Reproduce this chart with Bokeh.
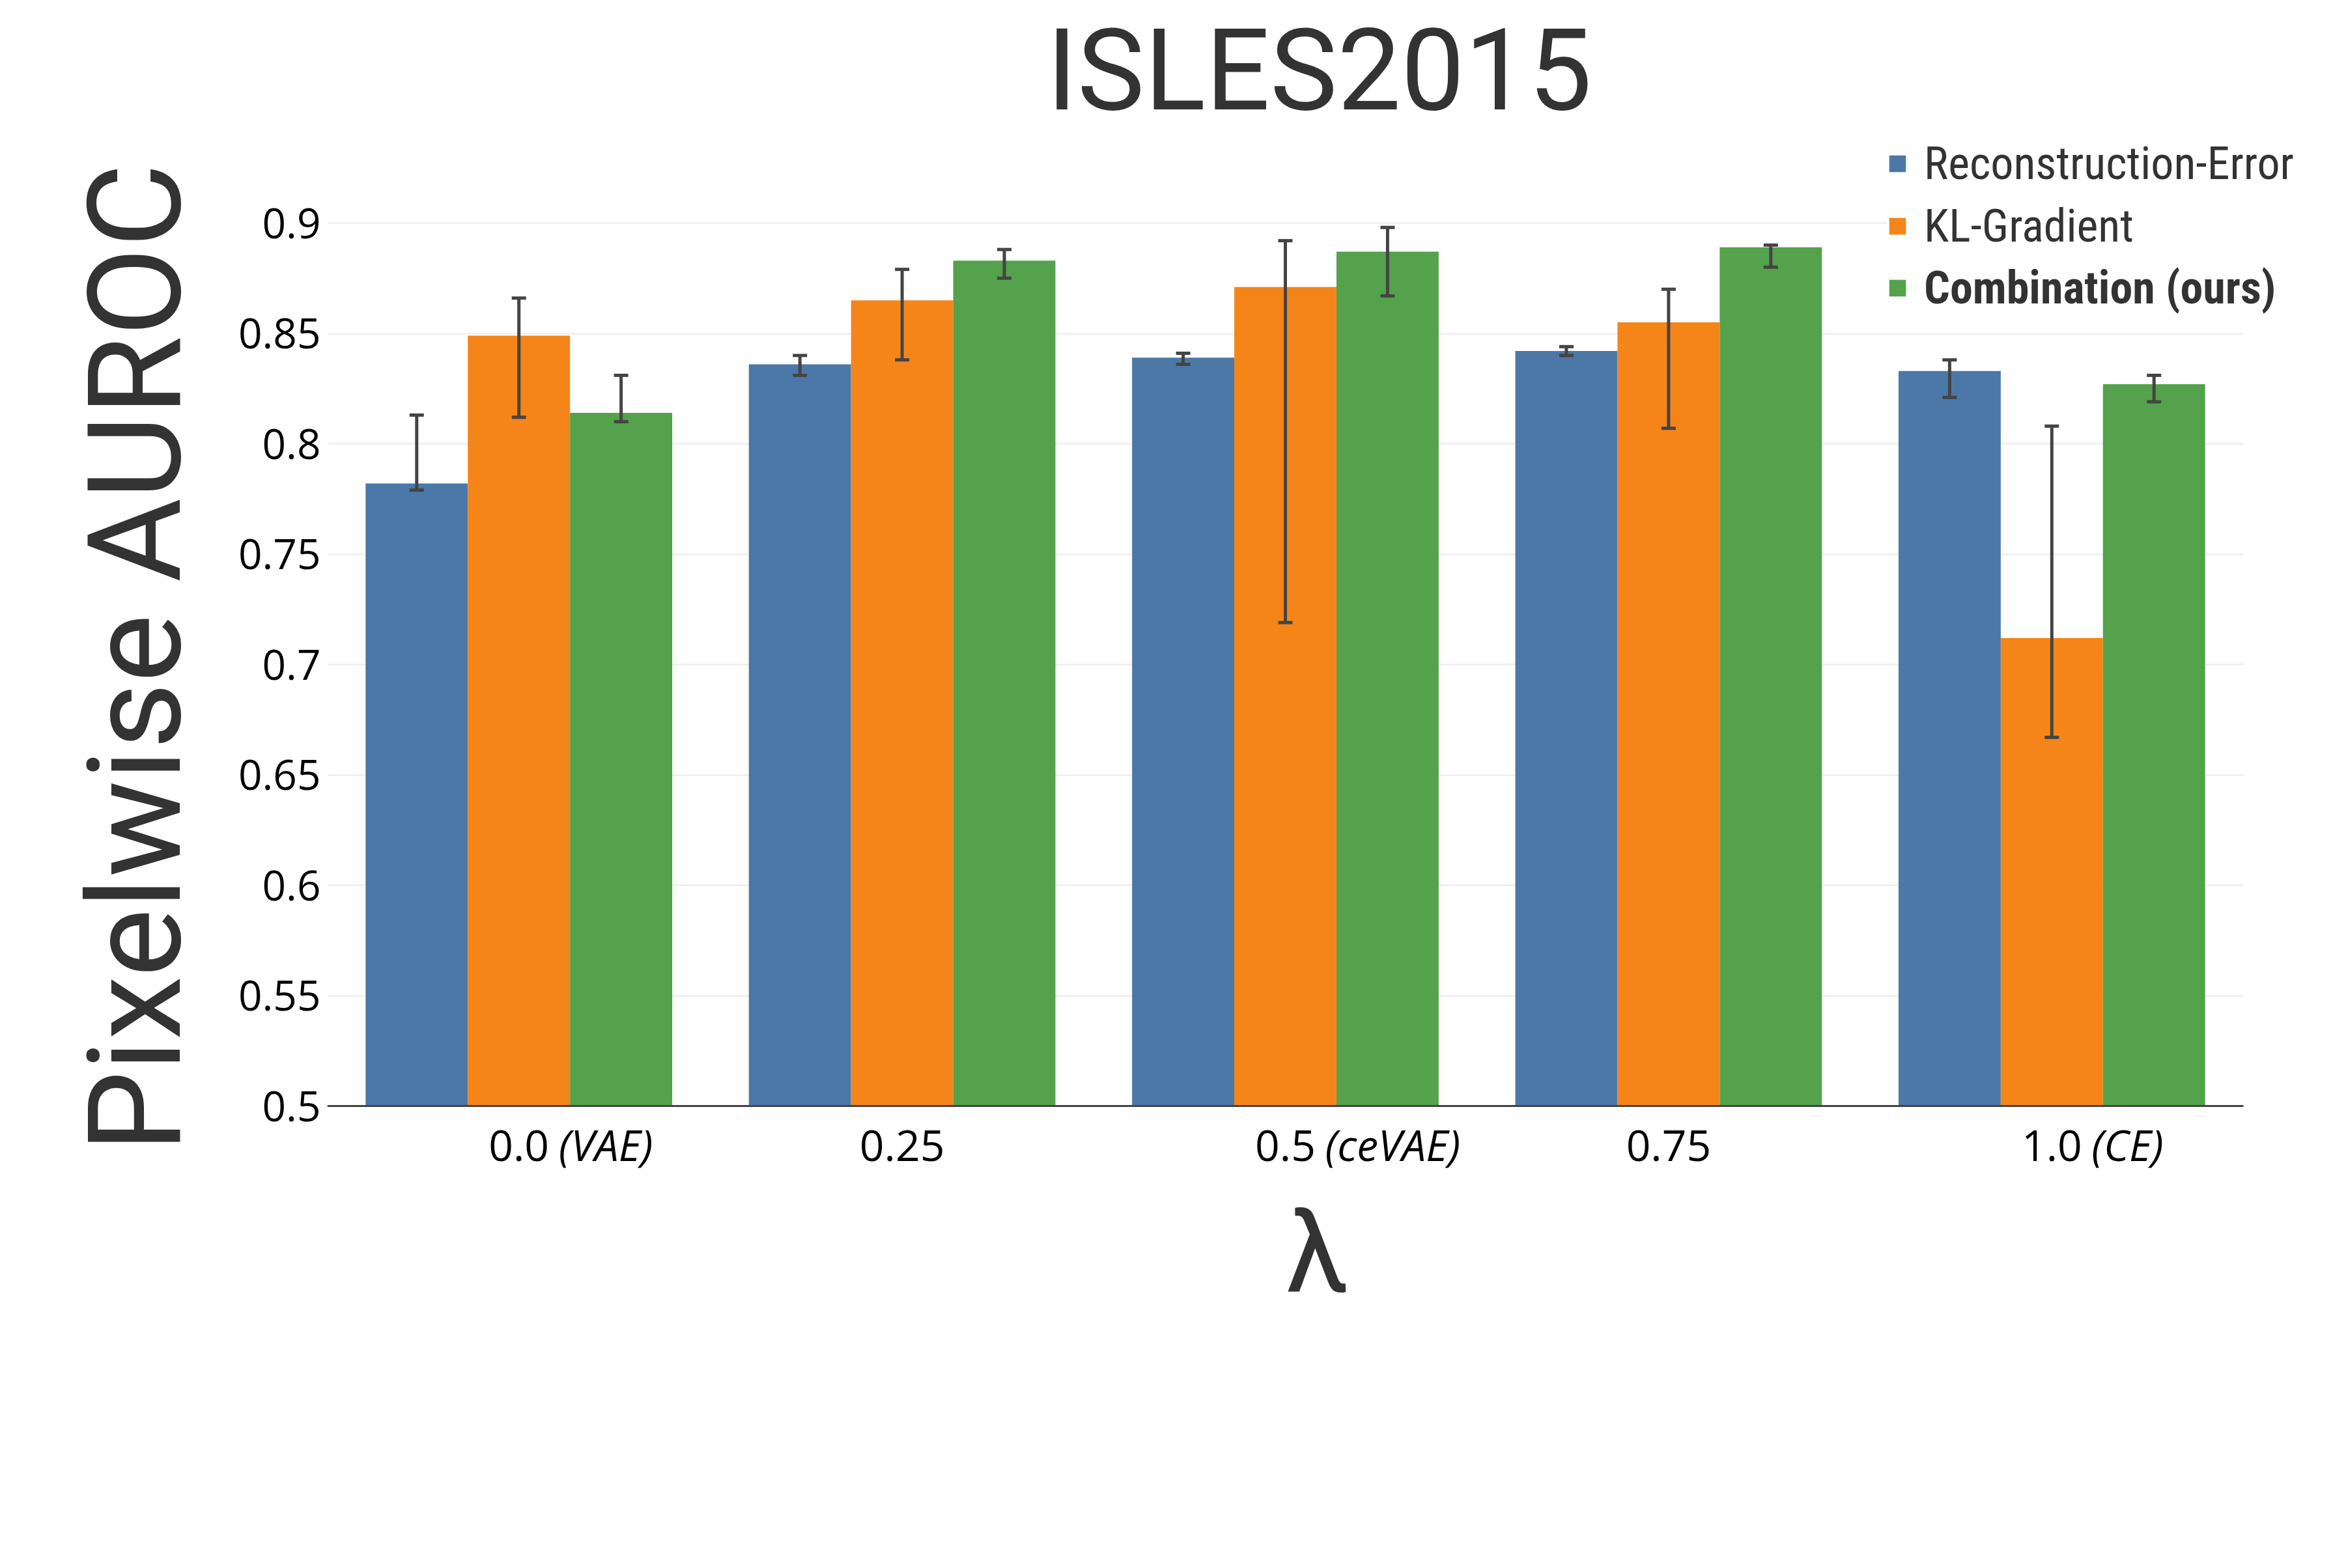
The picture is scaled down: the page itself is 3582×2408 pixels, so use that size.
from math import pi

from bokeh.plotting import figure
from bokeh.core.properties import value
from bokeh.models import (Range1d, FixedTicker, ColumnDataSource, Whisker, TeeHead,
                          Legend, LegendItem, Label, LabelSet)
from bokeh.transform import dodge
from bokeh.embed import file_html
from bokeh.resources import INLINE

# ---- data -------------------------------------------------------------
lambdas = ["0.0", "0.25", "0.5", "0.75", "1.0"]
lambda_notes = ["(VAE)", "", "(ceVAE)", "", "(CE)"]
series_names = ["Reconstruction-Error", "KL-Gradient", "Combination (ours)"]

recon_auroc = [0.782, 0.836, 0.839, 0.842, 0.833]
recon_upper = [0.813, 0.840, 0.841, 0.844, 0.838]
recon_lower = [0.779, 0.831, 0.836, 0.840, 0.821]

kl_auroc = [0.849, 0.865, 0.871, 0.855, 0.712]
kl_upper = [0.866, 0.879, 0.892, 0.870, 0.808]
kl_lower = [0.812, 0.838, 0.719, 0.807, 0.667]

comb_auroc = [0.814, 0.883, 0.887, 0.889, 0.827]
comb_upper = [0.831, 0.888, 0.898, 0.890, 0.831]
comb_lower = [0.810, 0.875, 0.867, 0.880, 0.819]

y_ticks = [0.5, 0.55, 0.6, 0.65, 0.7, 0.75, 0.8, 0.85, 0.9]
y_tick_labels = ["0.5", "0.55", "0.6", "0.65", "0.7", "0.75", "0.8", "0.85", "0.9"]
y_floor = 0.5

colors = ["#4c78a8", "#f58518", "#54a24b"]
TEXT_DARK = "#333333"
ERR_COLOR = "#444444"

# ---- canvas geometry (pixels) -----------------------------------------
W, H = 3582, 2408
FRAME_LEFT, FRAME_H = 502, 2020          # drawing area spans the canvas top down to 2020
FRAME_W = W - FRAME_LEFT
GROUP_PITCH = 588.4                       # px per lambda group
AXIS_FROM_TOP = 1698                      # where the 0.5 baseline sits
PX_PER_UNIT = 3390                        # px per 1.0 of AUROC

n = len(lambdas)
positions = list(range(n))
x_start = -0.5
x_end = x_start + FRAME_W / GROUP_PITCH
y_end = y_floor + AXIS_FROM_TOP / PX_PER_UNIT
y_start = y_floor - (FRAME_H - AXIS_FROM_TOP) / PX_PER_UNIT

p = figure(
    x_range=Range1d(x_start, x_end),
    y_range=Range1d(y_start, y_end),
    width=W, height=H, title=None,
    output_backend="svg", toolbar_location=None,
    min_border_left=FRAME_LEFT, min_border_right=0,
    min_border_top=0, min_border_bottom=H - FRAME_H,
    background_fill_color="white", border_fill_color="white",
    outline_line_color=None,
)

source = ColumnDataSource(dict(
    pos=positions, lam=lambdas,
    recon=recon_auroc, recon_hi=recon_upper, recon_lo=recon_lower,
    kl=kl_auroc, kl_hi=kl_upper, kl_lo=kl_lower,
    comb=comb_auroc, comb_hi=comb_upper, comb_lo=comb_lower,
))

bar_w = 0.8 / 3
offsets = [-bar_w, 0.0, bar_w]
columns = [("recon", "recon_hi", "recon_lo"),
           ("kl", "kl_hi", "kl_lo"),
           ("comb", "comb_hi", "comb_lo")]

# ---- grid (only across the bar area) ----------------------------------
p.xgrid.grid_line_color = None
p.ygrid.ticker = FixedTicker(ticks=y_ticks)
p.ygrid.grid_line_color = "#eeeeee"
p.ygrid.grid_line_width = 2.3
p.ygrid.cross_bounds = (x_start, n - 0.5)

# ---- bars + error bars ------------------------------------------------
bars = []
for (col, hi, lo), off, color in zip(columns, offsets, colors):
    r = p.vbar(x=dodge("pos", off), top=col, bottom=y_floor,
               width=bar_w, source=source, fill_color=color, line_color=None)
    bars.append(r)
    err = Whisker(base=dodge("pos", off), upper=hi, lower=lo,
                  source=source, level="annotation",
                  line_color=ERR_COLOR, line_width=5,
                  upper_head=TeeHead(size=22, line_color=ERR_COLOR, line_width=5),
                  lower_head=TeeHead(size=22, line_color=ERR_COLOR, line_width=5))
    p.add_layout(err)

# ---- axes -------------------------------------------------------------
xa = p.xaxis[0]
xa.fixed_location = y_floor
xa.bounds = (x_start, n - 0.5)
xa.ticker = FixedTicker(ticks=positions)
xa.major_label_overrides = {i: s for i, s in zip(positions, lambdas)}
xa.axis_line_color = "#444444"
xa.axis_line_width = 3
xa.major_tick_line_color = None
xa.minor_tick_line_color = None
xa.major_label_text_font = "Open Sans"
xa.major_label_text_font_size = "66px"
xa.major_label_text_color = "black"
xa.major_label_standoff = 31

ya = p.yaxis[0]
ya.ticker = FixedTicker(ticks=y_ticks)
ya.major_label_overrides = {t: s for t, s in zip(y_ticks, y_tick_labels)}
ya.axis_line_color = None
ya.major_tick_line_color = None
ya.minor_tick_line_color = None
ya.major_label_text_font = "Open Sans"
ya.major_label_text_font_size = "64px"
ya.major_label_text_color = "black"
ya.major_label_standoff = 4
ya.axis_label = "Pixelwise AUROC"
ya.axis_label_text_font = "Roboto"
ya.axis_label_text_font_size = "198px"
ya.axis_label_text_font_style = "normal"
ya.axis_label_text_color = TEXT_DARK
ya.axis_label_standoff = 39

# italic model names next to the lambda values
notes = ColumnDataSource(dict(pos=positions, note=lambda_notes))
p.add_layout(LabelSet(x="pos", y=y_floor, text="note", source=notes,
                      x_offset=61, y_offset=-84,
                      text_font=value("Open Sans"), text_font_style="italic",
                      text_font_size="66px", text_color="black",
                      text_align="left", text_baseline="alphabetic"))

# ---- titles -----------------------------------------------------------
p.add_layout(Label(x=1523, y=FRAME_H - 108, x_units="screen", y_units="screen",
                   text="ISLES2015", text_font="Roboto", text_font_size="174px",
                   text_color=TEXT_DARK, text_align="center",
                   text_baseline="alphabetic"))
p.add_layout(Label(x=1520, y=FRAME_H - 1923, x_units="screen", y_units="screen",
                   text="λ", text_font="Roboto", text_font_size="174px",
                   text_color=TEXT_DARK, text_align="center",
                   text_baseline="alphabetic"))

# ---- legend -----------------------------------------------------------
legend_font = "Roboto Condensed, Liberation Sans Narrow, Roboto"
common = dict(padding=0, margin=0, spacing=0, border_line_color=None,
              background_fill_color="white", background_fill_alpha=1.0,
              glyph_width=32, glyph_height=32, label_height=96,
              label_standoff=25, label_text_font=legend_font,
              label_text_font_size="70px", label_text_color=TEXT_DARK)

legend_main = Legend(items=[LegendItem(label=series_names[0], renderers=[bars[0]]),
                            LegendItem(label=series_names[1], renderers=[bars[1]])],
                     location=(2395, FRAME_H - 395), **common)
legend_ours = Legend(items=[LegendItem(label=series_names[2], renderers=[bars[2]])],
                     location=(2395, FRAME_H - 490),
                     label_text_font_style="bold", **common)
p.add_layout(legend_main, "center")
p.add_layout(legend_ours, "center")

open("out.html", "w").write(file_html(p, INLINE))
